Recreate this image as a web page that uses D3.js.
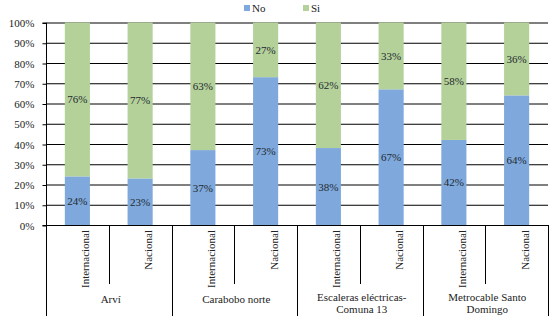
<!DOCTYPE html>
<html><head><meta charset="utf-8">
<script src="https://cdn.jsdelivr.net/npm/d3@7"></script>
<style>body{margin:0;background:#fff}</style>
</head><body><svg id="c" width="560" height="323"></svg>
<script>
const groups = ["Arví","Carabobo norte","Escaleras eléctricas-\nComuna 13","Metrocable Santo\nDomingo"];
const subcats = ["Internacional","Nacional"];
const noVals = [24,23,37,73,38,67,42,64];
const siVals = [76,77,63,27,62,33,58,36];
const yTicks = [0,10,20,30,40,50,60,70,80,90,100];
const seriesNames = ["No","Si"];
const colors = ["#7fa8dc","#b5d19a"];

// pick an installed serif font
function fontWidth(f){const c=document.createElement("canvas").getContext("2d");c.font="40px "+f;return c.measureText("Internacional WMwi 100%").width;}
const baseMono = fontWidth("monospace"), baseSans = fontWidth("sans-serif");
const cands = ["Liberation Serif","DejaVu Serif","Noto Serif","Times New Roman","Tinos","FreeSerif"];
let FF = "'Liberation Sans',Arial,sans-serif";
for (const c of cands){const w=fontWidth(`'${c}',monospace`);const w2=fontWidth(`'${c}',sans-serif`);if(w!==baseMono&&w2!==baseSans){FF=`'${c}',serif`;break;}}

const svg = d3.select("#c").attr("font-family",FF);
const L = 46, R = 548, T = 22.5, B = 225;
const FS = 11;
const cats = d3.range(8);
const x = d3.scaleBand().domain(cats).range([L,R]).paddingInner(0.6).paddingOuter(0.3);
const xs = d3.scaleLinear().domain([0,8]).range([L,R]);
const y = d3.scaleLinear().domain([0,100]).range([B,T]);

// gridlines
svg.append("g").selectAll("line").data(yTicks.filter(d=>d>0)).join("line")
  .attr("x1",L).attr("x2",R).attr("y1",d=>y(d)+0.5).attr("y2",d=>y(d)+0.5)
  .attr("stroke","#000").attr("stroke-width",1);

// y axis
const ya = svg.append("g").attr("transform",`translate(${L+0.5},0.5)`)
  .call(d3.axisLeft(y).tickValues(yTicks).tickFormat(d=>d+"%").tickSize(4).tickPadding(8));
ya.attr("font-family",FF).attr("font-size",FS);
ya.selectAll("path,line").attr("stroke","#000");
ya.select(".domain").attr("d",`M-4,${T}H0V${B}H-4`);
ya.selectAll("text").attr("fill","#222");

// bars
const stacked = cats.map(i=>[{s:0,y0:0,y1:noVals[i],v:noVals[i],i},{s:1,y0:noVals[i],y1:100,v:siVals[i],i}]).flat();
svg.append("g").selectAll("rect").data(stacked).join("rect")
  .attr("x",d=>x(d.i)).attr("width",x.bandwidth())
  .attr("y",d=>y(d.y1)).attr("height",d=>y(d.y0)-y(d.y1))
  .attr("fill",d=>colors[d.s]);
svg.append("g").selectAll("text").data(stacked).join("text")
  .attr("x",d=>x(d.i)+x.bandwidth()/2).attr("y",d=>y((d.y0+d.y1)/2)+4)
  .attr("text-anchor","middle").attr("font-size",FS).attr("fill","#1e2a30")
  .text(d=>d.v+"%");

// x axis line
svg.append("line").attr("x1",L).attr("x2",R).attr("y1",B+0.5).attr("y2",B+0.5).attr("stroke","#000");

// dividers
const divs = d3.range(9).map(k=>({k,long:k%2===0}));
svg.append("g").selectAll("line").data(divs).join("line")
  .attr("x1",d=>Math.round(xs(d.k))+0.5).attr("x2",d=>Math.round(xs(d.k))+0.5)
  .attr("y1",B).attr("y2",d=>d.long?316:284).attr("stroke","#000");

// rotated sub labels (fit to ~58px)
const sub = svg.append("g").selectAll("text").data(cats).join("text")
  .attr("transform",d=>`translate(${x(d)+x.bandwidth()/2+12},${B+5}) rotate(-90)`)
  .attr("text-anchor","end").attr("font-size",FS).attr("fill","#222")
  .text(d=>subcats[d%2]);
sub.filter(d=>d%2===0).each(function(){const w=this.getComputedTextLength(); if(w>58) d3.select(this).attr("textLength",58).attr("lengthAdjust","spacingAndGlyphs");});

// group labels
groups.forEach((g,gi)=>{
  const lines = g.split("\n");
  const cx = xs(gi*2+1)+2;
  const y0 = lines.length===1 ? 303 : 300.5;
  lines.forEach((ln,li)=>svg.append("text").attr("x",cx).attr("y",y0+li*12.5)
    .attr("text-anchor","middle").attr("font-size",FS).attr("fill","#222").text(ln));
});

// legend
const lg = svg.append("g");
const lx = [244,303];
seriesNames.forEach((n,i)=>{
  lg.append("rect").attr("x",lx[i]).attr("y",5).attr("width",6).attr("height",6).attr("fill",colors[i]);
  lg.append("text").attr("x",lx[i]+8).attr("y",12).attr("font-size",FS).attr("fill","#222").text(n);
});
</script></body></html>
